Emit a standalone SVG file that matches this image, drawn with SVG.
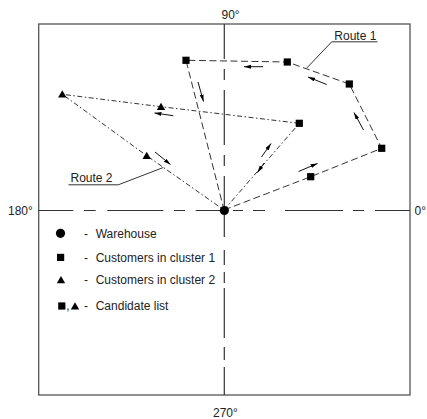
<svg xmlns="http://www.w3.org/2000/svg" width="427" height="419" viewBox="0 0 427 419">
<style>
text{font-family:"Liberation Sans",Arial,sans-serif;font-size:12px;fill:#222}
.frame{fill:none;stroke:#555;stroke-width:1.3}
.axis{stroke:#333;stroke-width:1.2;fill:none}
.r1{stroke:#333;stroke-width:1;fill:none;stroke-dasharray:7 3.5}
.r2{stroke:#333;stroke-width:1;fill:none;stroke-dasharray:5 2.5 1.5 2.5}
.arr{stroke:#111;stroke-width:1;fill:none;marker-end:url(#ah)}
.lead{stroke:#333;stroke-width:1;fill:none}
.pt{fill:#000}
</style>
<defs>
<marker id="ah" markerUnits="userSpaceOnUse" markerWidth="8" markerHeight="5" refX="7" refY="2" orient="auto">
<path d="M0,0 L7,2 L0,4 z" fill="#000"/>
</marker>
</defs>
<rect class="frame" x="38.7" y="24" width="371.3" height="371"/>
<g id="axes">
<path class="axis" d="M38.7,210.5H73.3M84,210.5H95.7M107.3,210.5H163.3M174,210.5H185M195.7,210.5H228M233,210.5H243M253,210.5H265M285,210.5H343M353,210.5H364M375,210.5H410"/>
<path class="axis" d="M224.3,24V59M224.3,69V80M224.3,90V145M224.3,155V166M224.3,176V237M224.3,250V265M224.3,272V283M224.3,288V338M224.3,347V360M224.3,367V395"/>
</g>
<g id="connectors">
<polyline class="r1" points="224,210 310.7,176.7 381.7,148.3 349.3,84 287.3,62 186,60.3 224,210"/>
<polyline class="r2" points="224,210 299.3,123.3 161,106.7 62.3,94.3 146.7,155.7 224,210"/>
<line class="arr" x1="263" y1="66.7" x2="244" y2="66.7"/>
<line class="arr" x1="326.7" y1="84.5" x2="308" y2="77"/>
<line class="arr" x1="363.5" y1="130" x2="354" y2="112.5"/>
<line class="arr" x1="298.5" y1="171.5" x2="317.5" y2="163.5"/>
<line class="arr" x1="198" y1="82" x2="203.5" y2="101.5"/>
<line class="arr" x1="261.5" y1="157" x2="271" y2="143.5"/>
<line class="arr" x1="264" y1="163" x2="257.5" y2="172.5"/>
<line class="arr" x1="173.3" y1="115.7" x2="154.5" y2="113"/>
<line class="arr" x1="155" y1="152" x2="170.5" y2="164.5"/>
</g>
<g id="warehouse"><circle class="pt" cx="224.3" cy="210.5" r="4.6"/></g>
<g id="s1"><rect class="pt" x="182.4" y="56.7" width="7.2" height="7.2"/></g>
<g id="s2"><rect class="pt" x="283.7" y="58.4" width="7.2" height="7.2"/></g>
<g id="s3"><rect class="pt" x="345.7" y="80.4" width="7.2" height="7.2"/></g>
<g id="s4"><rect class="pt" x="378.1" y="144.7" width="7.2" height="7.2"/></g>
<g id="s5"><rect class="pt" x="307.1" y="173.1" width="7.2" height="7.2"/></g>
<g id="s6"><rect class="pt" x="295.7" y="119.7" width="7.2" height="7.2"/></g>
<g id="t1"><path class="pt" d="M62.3,90.3 L66.5,97.5 L58.1,97.5 z"/></g>
<g id="t2"><path class="pt" d="M161,102.7 L165.2,109.9 L156.8,109.9 z"/></g>
<g id="t3"><path class="pt" d="M146.7,151.7 L150.9,158.9 L142.5,158.9 z"/></g>
<g id="route1-label">
<text x="334.3" y="39.8">Route 1</text>
<path class="lead" d="M377.5,41.8H331.7L306.5,68.3"/>
</g>
<g id="route2-label">
<text x="70.5" y="182.3">Route 2</text>
<path class="lead" d="M68.5,184.8H118.3L163.3,167.5"/>
</g>
<g id="axis-labels">
<text x="221.5" y="18.5">90°</text>
<text x="8" y="215">180°</text>
<text x="414.5" y="215">0°</text>
<text x="213" y="417">270°</text>
</g>
<g id="legend">
<circle class="pt" cx="60.5" cy="233.3" r="4.6"/>
<text x="84" y="238">-</text><text x="95.7" y="238">Warehouse</text>
<rect class="pt" x="57" y="253.8" width="7.2" height="7.2"/>
<text x="84" y="261.5">-</text><text x="95.7" y="261.5">Customers in cluster 1</text>
<path class="pt" d="M61,276 L65.2,283.2 L56.8,283.2 z"/>
<text x="84" y="284">-</text><text x="95.7" y="284">Customers in cluster 2</text>
<rect class="pt" x="58.2" y="302.4" width="7.2" height="7.2"/>
<text x="66.3" y="310">,</text>
<path class="pt" d="M75,302.2 L79.2,309.6 L70.8,309.6 z"/>
<text x="84" y="309.5">-</text><text x="95.7" y="309.5">Candidate list</text>
</g>
</svg>
